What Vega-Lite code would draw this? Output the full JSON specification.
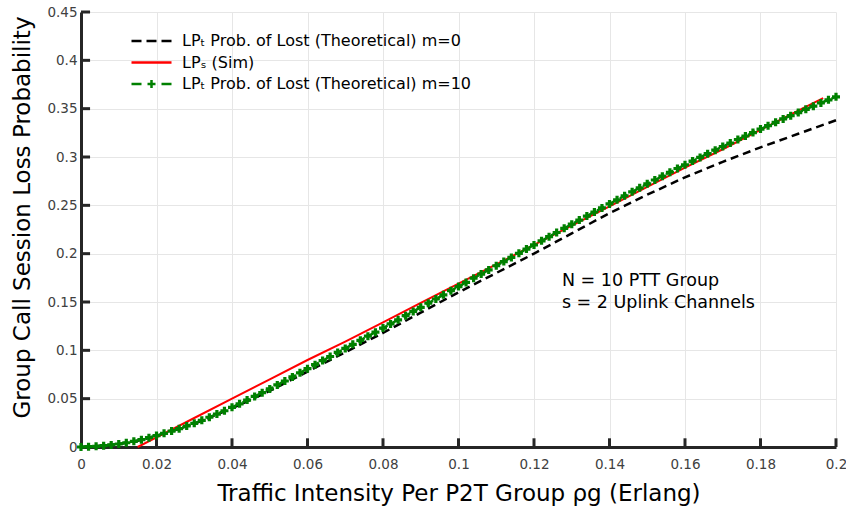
{
  "$schema": "https://vega.github.io/schema/vega-lite/v6.json",
  "width": 755,
  "height": 435,
  "autosize": {"type": "none"},
  "padding": {"left": 81, "top": 12, "right": 10, "bottom": 65},
  "background": "white",
  "config": {
    "view": {"stroke": null},
    "font": "DejaVu Sans",
    "axis": {
      "domainColor": "#262626",
      "domainWidth": 3,
      "ticks": false,
      "labelFontSize": 13.5,
      "labelColor": "#404040",
      "labelFont": "DejaVu Sans",
      "labelFlush": false,
      "titleFont": "DejaVu Sans",
      "titleFontSize": 23,
      "titleFontWeight": "normal",
      "titleColor": "#000000",
      "gridColor": "#e6e6e6",
      "gridWidth": 1
    },
    "legend": {
      "labelFont": "DejaVu Sans",
      "labelFontSize": 16,
      "labelColor": "#000000",
      "labelLimit": 500
    }
  },
  "datasets": {
    "m0": [
      {"x": 0, "y": 0}, {"x": 0.005, "y": 0.0012}, {"x": 0.01, "y": 0.003}, {"x": 0.015, "y": 0.0065},
      {"x": 0.02, "y": 0.0115}, {"x": 0.025, "y": 0.0175}, {"x": 0.03, "y": 0.024}, {"x": 0.035, "y": 0.032},
      {"x": 0.04, "y": 0.04}, {"x": 0.05, "y": 0.058}, {"x": 0.06, "y": 0.078}, {"x": 0.07, "y": 0.098},
      {"x": 0.08, "y": 0.118}, {"x": 0.09, "y": 0.139}, {"x": 0.1, "y": 0.16}, {"x": 0.11, "y": 0.18},
      {"x": 0.12, "y": 0.2}, {"x": 0.13, "y": 0.221}, {"x": 0.14, "y": 0.242}, {"x": 0.15, "y": 0.261},
      {"x": 0.16, "y": 0.279}, {"x": 0.17, "y": 0.295}, {"x": 0.18, "y": 0.31}, {"x": 0.19, "y": 0.324},
      {"x": 0.2, "y": 0.338}
    ],
    "sim": [
      {"x": 0.015, "y": 0}, {"x": 0.02, "y": 0.01}, {"x": 0.03, "y": 0.03}, {"x": 0.04, "y": 0.05},
      {"x": 0.05, "y": 0.07}, {"x": 0.06, "y": 0.09}, {"x": 0.07, "y": 0.109}, {"x": 0.08, "y": 0.129},
      {"x": 0.09, "y": 0.149}, {"x": 0.1, "y": 0.169}, {"x": 0.11, "y": 0.189}, {"x": 0.12, "y": 0.209},
      {"x": 0.13, "y": 0.229}, {"x": 0.14, "y": 0.249}, {"x": 0.15, "y": 0.269}, {"x": 0.16, "y": 0.289},
      {"x": 0.17, "y": 0.308}, {"x": 0.18, "y": 0.328}, {"x": 0.19, "y": 0.348}, {"x": 0.1966, "y": 0.361}
    ],
    "m10": [
      {"x": 0, "y": 0}, {"x": 0.002, "y": 0.0003}, {"x": 0.004, "y": 0.0007}, {"x": 0.006, "y": 0.0014},
      {"x": 0.008, "y": 0.0021}, {"x": 0.01, "y": 0.0031}, {"x": 0.012, "y": 0.0044}, {"x": 0.014, "y": 0.0059},
      {"x": 0.016, "y": 0.0076}, {"x": 0.018, "y": 0.0096}, {"x": 0.02, "y": 0.0118}, {"x": 0.022, "y": 0.0141},
      {"x": 0.024, "y": 0.0165}, {"x": 0.026, "y": 0.019}, {"x": 0.028, "y": 0.0217}, {"x": 0.03, "y": 0.0245},
      {"x": 0.032, "y": 0.0276}, {"x": 0.034, "y": 0.0308}, {"x": 0.036, "y": 0.0341}, {"x": 0.038, "y": 0.0375},
      {"x": 0.04, "y": 0.041}, {"x": 0.042, "y": 0.0447}, {"x": 0.044, "y": 0.0485}, {"x": 0.046, "y": 0.0523},
      {"x": 0.048, "y": 0.0562}, {"x": 0.05, "y": 0.0601}, {"x": 0.052, "y": 0.0642}, {"x": 0.054, "y": 0.0683},
      {"x": 0.056, "y": 0.0725}, {"x": 0.058, "y": 0.0767}, {"x": 0.06, "y": 0.081}, {"x": 0.062, "y": 0.0852},
      {"x": 0.064, "y": 0.0894}, {"x": 0.066, "y": 0.0936}, {"x": 0.068, "y": 0.0978}, {"x": 0.07, "y": 0.102},
      {"x": 0.072, "y": 0.1062}, {"x": 0.074, "y": 0.1104}, {"x": 0.076, "y": 0.1146}, {"x": 0.078, "y": 0.1188},
      {"x": 0.08, "y": 0.123}, {"x": 0.082, "y": 0.1273}, {"x": 0.084, "y": 0.1316}, {"x": 0.086, "y": 0.1359},
      {"x": 0.088, "y": 0.1402}, {"x": 0.09, "y": 0.1445}, {"x": 0.092, "y": 0.1488}, {"x": 0.094, "y": 0.1531},
      {"x": 0.096, "y": 0.1574}, {"x": 0.098, "y": 0.1617}, {"x": 0.1, "y": 0.166}, {"x": 0.102, "y": 0.1703},
      {"x": 0.104, "y": 0.1746}, {"x": 0.106, "y": 0.1789}, {"x": 0.108, "y": 0.1832}, {"x": 0.11, "y": 0.1875},
      {"x": 0.112, "y": 0.1918}, {"x": 0.114, "y": 0.1961}, {"x": 0.116, "y": 0.2004}, {"x": 0.118, "y": 0.2047},
      {"x": 0.12, "y": 0.209}, {"x": 0.122, "y": 0.2133}, {"x": 0.124, "y": 0.2176}, {"x": 0.126, "y": 0.2219},
      {"x": 0.128, "y": 0.2262}, {"x": 0.13, "y": 0.2305}, {"x": 0.132, "y": 0.2347}, {"x": 0.134, "y": 0.2389},
      {"x": 0.136, "y": 0.2431}, {"x": 0.138, "y": 0.2473}, {"x": 0.14, "y": 0.2515}, {"x": 0.142, "y": 0.2557},
      {"x": 0.144, "y": 0.2599}, {"x": 0.146, "y": 0.264}, {"x": 0.148, "y": 0.2681}, {"x": 0.15, "y": 0.2722},
      {"x": 0.152, "y": 0.2762}, {"x": 0.154, "y": 0.2802}, {"x": 0.156, "y": 0.2842}, {"x": 0.158, "y": 0.2881},
      {"x": 0.16, "y": 0.292}, {"x": 0.162, "y": 0.2958}, {"x": 0.164, "y": 0.2996}, {"x": 0.166, "y": 0.3034},
      {"x": 0.168, "y": 0.3071}, {"x": 0.17, "y": 0.3108}, {"x": 0.172, "y": 0.3145}, {"x": 0.174, "y": 0.3181},
      {"x": 0.176, "y": 0.3217}, {"x": 0.178, "y": 0.3253}, {"x": 0.18, "y": 0.3289}, {"x": 0.182, "y": 0.3324},
      {"x": 0.184, "y": 0.3359}, {"x": 0.186, "y": 0.3394}, {"x": 0.188, "y": 0.3427}, {"x": 0.19, "y": 0.346},
      {"x": 0.192, "y": 0.3493}, {"x": 0.194, "y": 0.3526}, {"x": 0.196, "y": 0.3559}, {"x": 0.198, "y": 0.3591},
      {"x": 0.2, "y": 0.3623}
    ],
    "xticks": [
      {"tx": 0.02, "t0": 0, "t1": 0.009}, {"tx": 0.04, "t0": 0, "t1": 0.009}, {"tx": 0.06, "t0": 0, "t1": 0.009},
      {"tx": 0.08, "t0": 0, "t1": 0.009}, {"tx": 0.1, "t0": 0, "t1": 0.009}, {"tx": 0.12, "t0": 0, "t1": 0.009},
      {"tx": 0.14, "t0": 0, "t1": 0.009}, {"tx": 0.16, "t0": 0, "t1": 0.009}, {"tx": 0.18, "t0": 0, "t1": 0.009},
      {"tx": 0.2, "t0": 0, "t1": 0.009}
    ],
    "yticks": [
      {"ty": 0.05, "t0": 0, "t1": 0.0024}, {"ty": 0.1, "t0": 0, "t1": 0.0024}, {"ty": 0.15, "t0": 0, "t1": 0.0024},
      {"ty": 0.2, "t0": 0, "t1": 0.0024}, {"ty": 0.25, "t0": 0, "t1": 0.0024}, {"ty": 0.3, "t0": 0, "t1": 0.0024},
      {"ty": 0.35, "t0": 0, "t1": 0.0024}, {"ty": 0.4, "t0": 0, "t1": 0.0024}, {"ty": 0.45, "t0": 0, "t1": 0.0024}
    ],
    "notes": [
      {"x": 0.1274, "y": 0.1665, "text": "N = 10 PTT Group"},
      {"x": 0.1274, "y": 0.1441, "text": "s = 2 Uplink Channels"}
    ]
  },
  "layer": [
    {
      "data": {"name": "xticks"},
      "mark": {"type": "rule", "strokeWidth": 3, "color": "#262626", "clip": false},
      "encoding": {
        "x": {
          "field": "tx",
          "type": "quantitative",
          "scale": {"domain": [0, 0.2], "nice": false, "zero": false},
          "axis": {
            "values": [0, 0.02, 0.04, 0.06, 0.08, 0.1, 0.12, 0.14, 0.16, 0.18, 0.2],
            "format": "~g",
            "labelPadding": 10,
            "titlePadding": 12,
            "title": "Traffic Intensity Per P2T Group ρg (Erlang)"
          }
        },
        "y": {
          "field": "t0",
          "type": "quantitative",
          "scale": {"domain": [0, 0.45], "nice": false, "zero": false},
          "axis": {
            "values": [0, 0.05, 0.1, 0.15, 0.2, 0.25, 0.3, 0.35, 0.4, 0.45],
            "format": "~g",
            "labelPadding": 4,
            "titlePadding": 12,
            "titleY": 205,
            "title": "Group Call Session Loss Probability"
          }
        },
        "y2": {"field": "t1"}
      }
    },
    {
      "data": {"name": "yticks"},
      "mark": {"type": "rule", "strokeWidth": 3, "color": "#262626", "clip": false},
      "encoding": {
        "y": {"field": "ty", "type": "quantitative"},
        "x": {"field": "t0", "type": "quantitative"},
        "x2": {"field": "t1"}
      }
    },
    {
      "data": {"name": "m0"},
      "mark": {"type": "line", "strokeWidth": 2.5, "strokeDash": [8, 5]},
      "encoding": {
        "x": {"field": "x", "type": "quantitative"},
        "y": {"field": "y", "type": "quantitative"},
        "color": {
          "datum": "LPₜ Prob. of Lost (Theoretical) m=0",
          "type": "nominal",
          "scale": {
            "domain": ["LPₜ Prob. of Lost (Theoretical) m=0", "LPₛ (Sim)", "LPₜ Prob. of Lost (Theoretical) m=10"],
            "range": ["#000000", "#ff0000", "#008000"]
          },
          "legend": {
            "title": null,
            "orient": "none",
            "legendX": 49,
            "legendY": 21,
            "padding": 0,
            "symbolSize": 1600,
            "symbolStrokeWidth": 2.5,
            "labelOffset": 9,
            "clipHeight": 16,
            "rowPadding": 5.5,
            "encode": {
              "symbols": {
                "update": {
                  "fill": {"value": "transparent"},
                  "strokeDash": {"value": []},
                  "shape": [
                    {"test": "indexof(datum.value, 'm=10') >= 0", "value": "M-1,0H-0.5M-0.2,0H0.2M0,-0.2V0.2M0.5,0H1"},
                    {"test": "indexof(datum.value, 'Sim') >= 0", "value": "M-1,0H1"},
                    {"value": "M-1,0H-0.5M-0.25,0H0.25M0.5,0H1"}
                  ]
                }
              }
            }
          }
        }
      }
    },
    {
      "data": {"name": "sim"},
      "mark": {"type": "line", "strokeWidth": 2},
      "encoding": {
        "x": {"field": "x", "type": "quantitative"},
        "y": {"field": "y", "type": "quantitative"},
        "color": {"datum": "LPₛ (Sim)", "type": "nominal"}
      }
    },
    {
      "data": {"name": "m10"},
      "mark": {"type": "line", "strokeWidth": 2.5, "strokeDash": [8, 5]},
      "encoding": {
        "x": {"field": "x", "type": "quantitative"},
        "y": {"field": "y", "type": "quantitative"},
        "color": {"datum": "LPₜ Prob. of Lost (Theoretical) m=10", "type": "nominal"}
      }
    },
    {
      "data": {"name": "m10"},
      "mark": {"type": "point", "shape": "cross", "size": 64, "filled": true, "color": "#008000", "opacity": 1},
      "encoding": {
        "x": {"field": "x", "type": "quantitative"},
        "y": {"field": "y", "type": "quantitative"}
      }
    },
    {
      "data": {"name": "notes"},
      "mark": {"type": "text", "align": "left", "baseline": "alphabetic", "fontSize": 17.5, "font": "DejaVu Sans", "color": "#000000"},
      "encoding": {
        "x": {"field": "x", "type": "quantitative"},
        "y": {"field": "y", "type": "quantitative"},
        "text": {"field": "text"}
      }
    }
  ]
}
